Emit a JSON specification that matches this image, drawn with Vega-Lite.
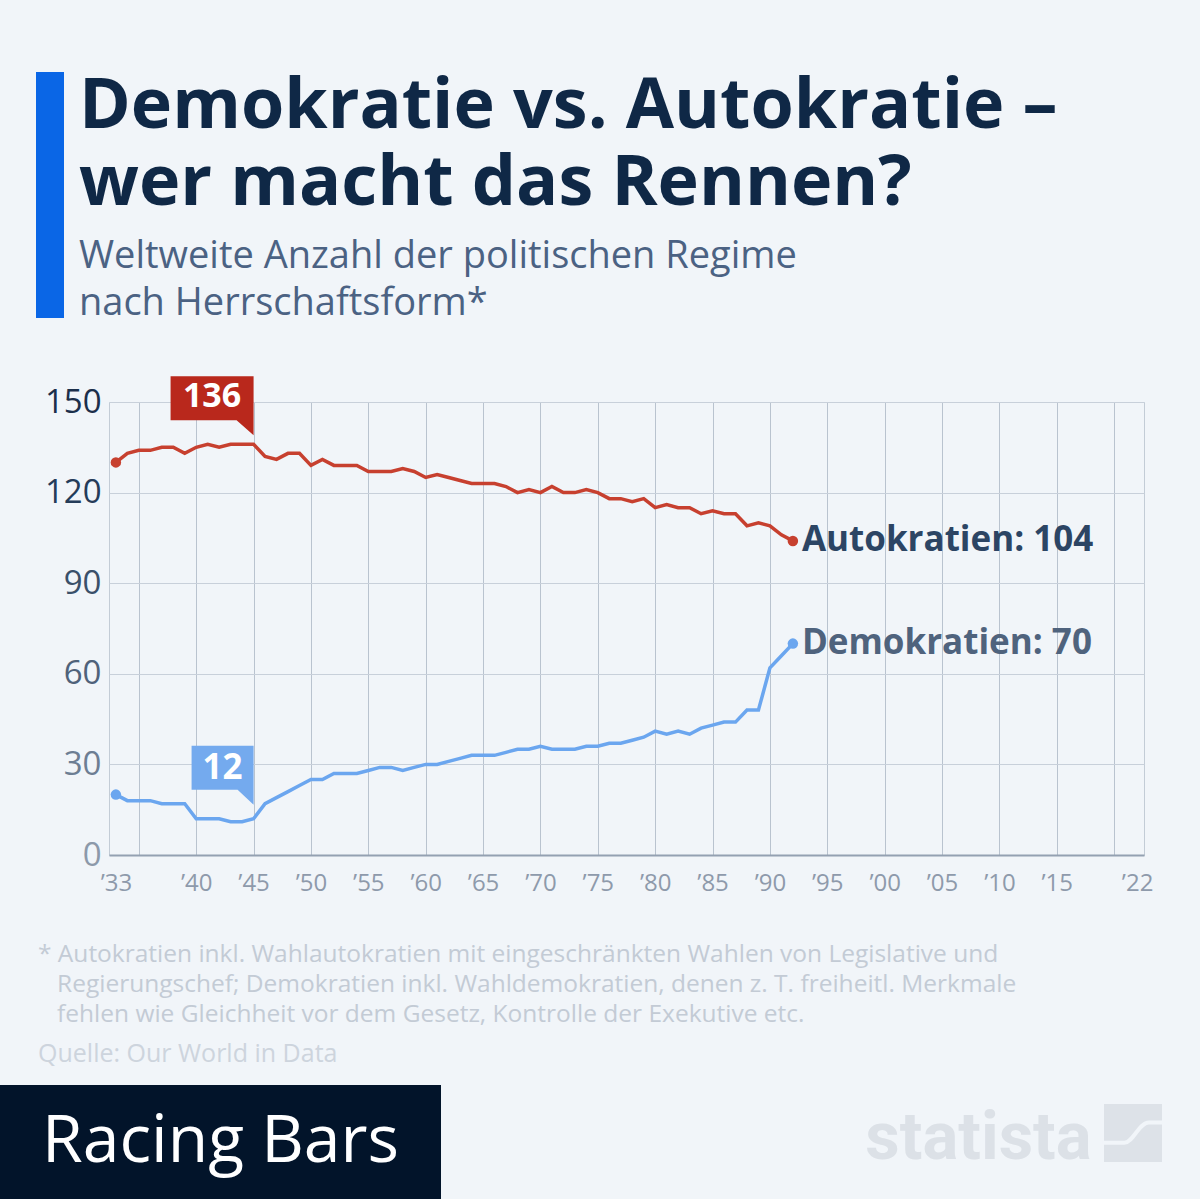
{
  "$schema": "https://vega.github.io/schema/vega-lite/v6.json",
  "background": "#f1f5f9",
  "padding": {"left": 0, "top": 72, "right": 36, "bottom": 0},
  "spacing": 52,
  "config": {"view": {"stroke": null}, "font": "Open Sans"},
  "datasets": {
    "regimes": [
      {"year": 1933, "regime": "Autokratien", "count": 130}, {"year": 1934, "regime": "Autokratien", "count": 133},
      {"year": 1935, "regime": "Autokratien", "count": 134}, {"year": 1936, "regime": "Autokratien", "count": 134},
      {"year": 1937, "regime": "Autokratien", "count": 135}, {"year": 1938, "regime": "Autokratien", "count": 135},
      {"year": 1939, "regime": "Autokratien", "count": 133}, {"year": 1940, "regime": "Autokratien", "count": 135},
      {"year": 1941, "regime": "Autokratien", "count": 136}, {"year": 1942, "regime": "Autokratien", "count": 135},
      {"year": 1943, "regime": "Autokratien", "count": 136}, {"year": 1944, "regime": "Autokratien", "count": 136},
      {"year": 1945, "regime": "Autokratien", "count": 136}, {"year": 1946, "regime": "Autokratien", "count": 132},
      {"year": 1947, "regime": "Autokratien", "count": 131}, {"year": 1948, "regime": "Autokratien", "count": 133},
      {"year": 1949, "regime": "Autokratien", "count": 133}, {"year": 1950, "regime": "Autokratien", "count": 129},
      {"year": 1951, "regime": "Autokratien", "count": 131}, {"year": 1952, "regime": "Autokratien", "count": 129},
      {"year": 1953, "regime": "Autokratien", "count": 129}, {"year": 1954, "regime": "Autokratien", "count": 129},
      {"year": 1955, "regime": "Autokratien", "count": 127}, {"year": 1956, "regime": "Autokratien", "count": 127},
      {"year": 1957, "regime": "Autokratien", "count": 127}, {"year": 1958, "regime": "Autokratien", "count": 128},
      {"year": 1959, "regime": "Autokratien", "count": 127}, {"year": 1960, "regime": "Autokratien", "count": 125},
      {"year": 1961, "regime": "Autokratien", "count": 126}, {"year": 1962, "regime": "Autokratien", "count": 125},
      {"year": 1963, "regime": "Autokratien", "count": 124}, {"year": 1964, "regime": "Autokratien", "count": 123},
      {"year": 1965, "regime": "Autokratien", "count": 123}, {"year": 1966, "regime": "Autokratien", "count": 123},
      {"year": 1967, "regime": "Autokratien", "count": 122}, {"year": 1968, "regime": "Autokratien", "count": 120},
      {"year": 1969, "regime": "Autokratien", "count": 121}, {"year": 1970, "regime": "Autokratien", "count": 120},
      {"year": 1971, "regime": "Autokratien", "count": 122}, {"year": 1972, "regime": "Autokratien", "count": 120},
      {"year": 1973, "regime": "Autokratien", "count": 120}, {"year": 1974, "regime": "Autokratien", "count": 121},
      {"year": 1975, "regime": "Autokratien", "count": 120}, {"year": 1976, "regime": "Autokratien", "count": 118},
      {"year": 1977, "regime": "Autokratien", "count": 118}, {"year": 1978, "regime": "Autokratien", "count": 117},
      {"year": 1979, "regime": "Autokratien", "count": 118}, {"year": 1980, "regime": "Autokratien", "count": 115},
      {"year": 1981, "regime": "Autokratien", "count": 116}, {"year": 1982, "regime": "Autokratien", "count": 115},
      {"year": 1983, "regime": "Autokratien", "count": 115}, {"year": 1984, "regime": "Autokratien", "count": 113},
      {"year": 1985, "regime": "Autokratien", "count": 114}, {"year": 1986, "regime": "Autokratien", "count": 113},
      {"year": 1987, "regime": "Autokratien", "count": 113}, {"year": 1988, "regime": "Autokratien", "count": 109},
      {"year": 1989, "regime": "Autokratien", "count": 110}, {"year": 1990, "regime": "Autokratien", "count": 109},
      {"year": 1991, "regime": "Autokratien", "count": 106}, {"year": 1992, "regime": "Autokratien", "count": 104},
      {"year": 1933, "regime": "Demokratien", "count": 20}, {"year": 1934, "regime": "Demokratien", "count": 18},
      {"year": 1935, "regime": "Demokratien", "count": 18}, {"year": 1936, "regime": "Demokratien", "count": 18},
      {"year": 1937, "regime": "Demokratien", "count": 17}, {"year": 1938, "regime": "Demokratien", "count": 17},
      {"year": 1939, "regime": "Demokratien", "count": 17}, {"year": 1940, "regime": "Demokratien", "count": 12},
      {"year": 1941, "regime": "Demokratien", "count": 12}, {"year": 1942, "regime": "Demokratien", "count": 12},
      {"year": 1943, "regime": "Demokratien", "count": 11}, {"year": 1944, "regime": "Demokratien", "count": 11},
      {"year": 1945, "regime": "Demokratien", "count": 12}, {"year": 1946, "regime": "Demokratien", "count": 17},
      {"year": 1947, "regime": "Demokratien", "count": 19}, {"year": 1948, "regime": "Demokratien", "count": 21},
      {"year": 1949, "regime": "Demokratien", "count": 23}, {"year": 1950, "regime": "Demokratien", "count": 25},
      {"year": 1951, "regime": "Demokratien", "count": 25}, {"year": 1952, "regime": "Demokratien", "count": 27},
      {"year": 1953, "regime": "Demokratien", "count": 27}, {"year": 1954, "regime": "Demokratien", "count": 27},
      {"year": 1955, "regime": "Demokratien", "count": 28}, {"year": 1956, "regime": "Demokratien", "count": 29},
      {"year": 1957, "regime": "Demokratien", "count": 29}, {"year": 1958, "regime": "Demokratien", "count": 28},
      {"year": 1959, "regime": "Demokratien", "count": 29}, {"year": 1960, "regime": "Demokratien", "count": 30},
      {"year": 1961, "regime": "Demokratien", "count": 30}, {"year": 1962, "regime": "Demokratien", "count": 31},
      {"year": 1963, "regime": "Demokratien", "count": 32}, {"year": 1964, "regime": "Demokratien", "count": 33},
      {"year": 1965, "regime": "Demokratien", "count": 33}, {"year": 1966, "regime": "Demokratien", "count": 33},
      {"year": 1967, "regime": "Demokratien", "count": 34}, {"year": 1968, "regime": "Demokratien", "count": 35},
      {"year": 1969, "regime": "Demokratien", "count": 35}, {"year": 1970, "regime": "Demokratien", "count": 36},
      {"year": 1971, "regime": "Demokratien", "count": 35}, {"year": 1972, "regime": "Demokratien", "count": 35},
      {"year": 1973, "regime": "Demokratien", "count": 35}, {"year": 1974, "regime": "Demokratien", "count": 36},
      {"year": 1975, "regime": "Demokratien", "count": 36}, {"year": 1976, "regime": "Demokratien", "count": 37},
      {"year": 1977, "regime": "Demokratien", "count": 37}, {"year": 1978, "regime": "Demokratien", "count": 38},
      {"year": 1979, "regime": "Demokratien", "count": 39}, {"year": 1980, "regime": "Demokratien", "count": 41},
      {"year": 1981, "regime": "Demokratien", "count": 40}, {"year": 1982, "regime": "Demokratien", "count": 41},
      {"year": 1983, "regime": "Demokratien", "count": 40}, {"year": 1984, "regime": "Demokratien", "count": 42},
      {"year": 1985, "regime": "Demokratien", "count": 43}, {"year": 1986, "regime": "Demokratien", "count": 44},
      {"year": 1987, "regime": "Demokratien", "count": 44}, {"year": 1988, "regime": "Demokratien", "count": 48},
      {"year": 1989, "regime": "Demokratien", "count": 48}, {"year": 1990, "regime": "Demokratien", "count": 62},
      {"year": 1991, "regime": "Demokratien", "count": 66}, {"year": 1992, "regime": "Demokratien", "count": 70}
    ],
    "callouts": [
      {"regime": "Autokratien", "year": 1945, "count": 136, "label": "136"},
      {"regime": "Demokratien", "year": 1945, "count": 12, "label": "12"}
    ],
    "ends": [
      {"regime": "Autokratien", "year": 1992, "count": 104, "label": "Autokratien: 104"},
      {"regime": "Demokratien", "year": 1992, "count": 70, "label": "Demokratien: 70"}
    ]
  },
  "vconcat": [
    {
      "spacing": 35,
      "hconcat": [
        {"width": 1, "height": 1, "data": {"values": []}, "mark": "rect", "encoding": {}},
        {
          "spacing": 15,
          "hconcat": [
            {
              "width": 28,
              "height": 246,
              "view": {"fill": "#0a66e6", "stroke": null},
              "data": {"values": [{"part": "accent"}]},
              "mark": {"type": "rect", "color": "#0a66e6"},
              "encoding": {}
            },
            {
              "width": 1000,
              "height": 1,
              "data": {"values": []},
              "mark": "rect",
              "encoding": {},
              "title": {
                "text": ["Demokratie vs. Autokratie –", "wer macht das Rennen?"],
                "subtitle": ["Weltweite Anzahl der politischen Regime", "nach Herrschaftsform*"],
                "orient": "bottom",
                "anchor": "start",
                "frame": "group",
                "offset": 0,
                "font": "Open Sans",
                "fontSize": 70,
                "fontWeight": "bold",
                "color": "#0f2846",
                "lineHeight": 77,
                "subtitleFont": "Open Sans",
                "subtitleFontSize": 38,
                "subtitleColor": "#4b6283",
                "subtitleLineHeight": 47,
                "subtitlePadding": 18
              }
            }
          ]
        }
      ]
    },
    {
      "spacing": 18,
      "vconcat": [
        {
          "spacing": 36,
          "hconcat": [
            {"width": 1, "height": 1, "data": {"values": []}, "mark": "rect", "encoding": {}},
            {
              "width": 1035,
              "height": 453,
              "view": {"stroke": "#c3ccd6"},
              "title": {
                "text": [
                  "* Autokratien inkl. Wahlautokratien mit eingeschränkten Wahlen von Legislative und",
                  "\u200b\u00a0\u00a0\u00a0Regierungschef; Demokratien inkl. Wahldemokratien, denen z. T. freiheitl. Merkmale",
                  "\u200b\u00a0\u00a0\u00a0fehlen wie Gleichheit vor dem Gesetz, Kontrolle der Exekutive etc."
                ],
                "subtitle": "Quelle: Our World in Data",
                "orient": "bottom",
                "anchor": "start",
                "frame": "group",
                "dx": -71,
                "offset": 48,
                "font": "Open Sans",
                "fontSize": 24.5,
                "fontWeight": "normal",
                "color": "#c3cbd5",
                "lineHeight": 30,
                "subtitleFont": "Open Sans",
                "subtitleFontSize": 25,
                "subtitleColor": "#cdd4dd",
                "subtitlePadding": 14
              },
              "layer": [
                {
                  "data": {"name": "regimes"},
                  "mark": {"type": "line", "strokeWidth": 3.5},
                  "encoding": {
                    "x": {
                      "field": "year",
                      "type": "quantitative",
                      "scale": {"domain": [1932.4, 2022.6], "nice": false, "zero": false},
                      "axis": {
                        "title": null,
                        "values": [1933, 1935, 1940, 1945, 1950, 1955, 1960, 1965, 1970, 1975, 1980, 1985, 1990, 1995, 2000, 2005, 2010, 2015, 2020, 2022],
                        "labelExpr": "datum.value == 1935 || datum.value == 2020 ? '' : '’' + slice(toString(datum.value), 2)",
                        "labelOverlap": false,
                        "labelFlush": false,
                        "labelFont": "Open Sans",
                        "labelFontSize": 24,
                        "labelColor": "#8e9aab",
                        "labelPadding": 16,
                        "ticks": false,
                        "domainColor": "#94a1b2",
                        "domainWidth": 2,
                        "grid": true,
                        "gridColor": "#b9c3cf",
                        "gridOpacity": {"condition": {"test": "datum.value == 1933 || datum.value == 2022", "value": 0}, "value": 1}
                      }
                    },
                    "y": {
                      "field": "count",
                      "type": "quantitative",
                      "scale": {"domain": [0, 150], "nice": false},
                      "axis": {
                        "title": null,
                        "values": [0, 30, 60, 90, 120, 150],
                        "grid": true,
                        "gridColor": "#c8d0da",
                        "ticks": false,
                        "domain": false,
                        "labelFont": "Open Sans",
                        "labelFontSize": 33,
                        "labelPadding": 8,
                        "labelColor": {
                          "condition": [
                            {"test": "datum.value >= 150", "value": "#1b2f4b"},
                            {"test": "datum.value >= 120", "value": "#253c59"},
                            {"test": "datum.value >= 90", "value": "#3a5069"},
                            {"test": "datum.value >= 60", "value": "#4f627a"},
                            {"test": "datum.value >= 30", "value": "#6d7e93"}
                          ],
                          "value": "#8c99aa"
                        }
                      }
                    },
                    "color": {
                      "field": "regime",
                      "type": "nominal",
                      "scale": {"domain": ["Autokratien", "Demokratien"], "range": ["#c7402f", "#6ba6ef"]},
                      "legend": null
                    }
                  }
                },
                {
                  "data": {"name": "regimes"},
                  "transform": [{"filter": "datum.year == 1933 || datum.year == 1992"}],
                  "mark": {"type": "point", "filled": true, "size": 110, "opacity": 1},
                  "encoding": {
                    "x": {"field": "year", "type": "quantitative"},
                    "y": {"field": "count", "type": "quantitative"},
                    "color": {"field": "regime", "type": "nominal"}
                  }
                },
                {
                  "data": {"name": "callouts"},
                  "mark": {"type": "point", "filled": true, "size": 4, "opacity": 1, "strokeWidth": 0},
                  "encoding": {
                    "x": {"field": "year", "type": "quantitative"},
                    "y": {"field": "count", "type": "quantitative"},
                    "shape": {
                      "field": "regime",
                      "type": "nominal",
                      "scale": {
                        "domain": ["Autokratien", "Demokratien"],
                        "range": ["M-83,-68H0V-9L-17,-24H-83Z", "M-62,-73H0V-14L-16,-29H-62Z"]
                      },
                      "legend": null
                    },
                    "fill": {
                      "field": "regime",
                      "type": "nominal",
                      "scale": {"domain": ["Autokratien", "Demokratien"], "range": ["#b9281c", "#74aaee"]},
                      "legend": null
                    }
                  }
                },
                {
                  "data": {"name": "callouts"},
                  "transform": [{"filter": "datum.regime == 'Autokratien'"}],
                  "mark": {"type": "text", "font": "Open Sans", "fontSize": 34, "fontWeight": "bold", "color": "#ffffff", "align": "center", "baseline": "middle", "dx": -41.5, "dy": -47},
                  "encoding": {
                    "x": {"field": "year", "type": "quantitative"},
                    "y": {"field": "count", "type": "quantitative"},
                    "text": {"field": "label"}
                  }
                },
                {
                  "data": {"name": "callouts"},
                  "transform": [{"filter": "datum.regime == 'Demokratien'"}],
                  "mark": {"type": "text", "font": "Open Sans", "fontSize": 35, "fontWeight": "bold", "color": "#ffffff", "align": "center", "baseline": "middle", "dx": -31, "dy": -51},
                  "encoding": {
                    "x": {"field": "year", "type": "quantitative"},
                    "y": {"field": "count", "type": "quantitative"},
                    "text": {"field": "label"}
                  }
                },
                {
                  "data": {"name": "ends"},
                  "mark": {"type": "text", "font": "Open Sans", "fontSize": 35, "fontWeight": "bold", "align": "left", "baseline": "middle", "dx": 9, "dy": -1},
                  "encoding": {
                    "x": {"field": "year", "type": "quantitative"},
                    "y": {"field": "count", "type": "quantitative"},
                    "text": {"field": "label"},
                    "color": {"condition": {"test": "datum.regime == 'Autokratien'", "value": "#2c4564"}, "value": "#4f637d"}
                  }
                }
              ]
            }
          ]
        },
        {
          "spacing": 424,
          "hconcat": [
            {
              "width": 441,
              "height": 114,
              "view": {"fill": "#02142a", "stroke": null},
              "data": {"values": [{"label": "Racing Bars"}]},
              "mark": {"type": "text", "font": "Open Sans", "fontSize": 66, "color": "#ffffff", "align": "center", "baseline": "middle"},
              "encoding": {"text": {"field": "label"}}
            },
            {
              "spacing": 2,
              "hconcat": [
                {
                  "width": 223,
                  "height": 108,
                  "data": {"values": [{"label": "statista"}]},
                  "mark": {"type": "text", "font": "Roboto", "fontSize": 67, "fontWeight": "bold", "color": "#dce1e7", "align": "center", "baseline": "middle"},
                  "encoding": {"text": {"field": "label"}}
                },
                {
                  "width": 58,
                  "height": 96,
                  "data": {"values": [{"part": "icon"}]},
                  "layer": [
                    {
                      "mark": {"type": "point", "shape": "square", "filled": true, "size": 3364, "color": "#dde2e8", "opacity": 1},
                      "encoding": {}
                    },
                    {
                      "mark": {"type": "point", "shape": "M-1.05,0.34L-0.3,0.34C0,0.34 0.2,-0.36 0.55,-0.36L1.05,-0.36", "filled": false, "size": 3364, "stroke": "#f1f5f9", "strokeWidth": 4, "opacity": 1},
                      "encoding": {}
                    }
                  ]
                }
              ]
            }
          ]
        }
      ]
    }
  ]
}
